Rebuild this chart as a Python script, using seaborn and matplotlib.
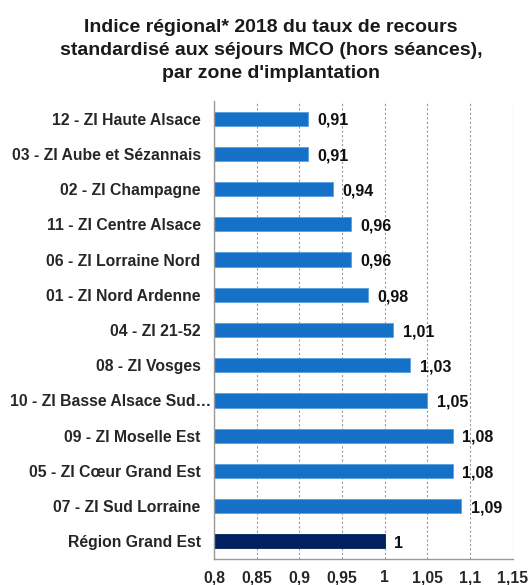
import matplotlib
matplotlib.use("Agg")
import matplotlib.pyplot as plt
import matplotlib.transforms as mtransforms
import seaborn as sns
import pandas as pd
import numpy as np
from matplotlib.ticker import FixedLocator

categories = [
    "12 - ZI Haute Alsace",
    "03 - ZI Aube et Sézannais",
    "02 - ZI Champagne",
    "11 - ZI Centre Alsace",
    "06 - ZI Lorraine Nord",
    "01 - ZI Nord Ardenne",
    "04 - ZI 21-52",
    "08 - ZI Vosges",
    "10 - ZI Basse Alsace Sud…",
    "09 - ZI Moselle Est",
    "05 - ZI Cœur Grand Est",
    "07 - ZI Sud Lorraine",
    "Région Grand Est",
]
values = [0.91, 0.91, 0.94, 0.96, 0.96, 0.98, 1.01, 1.03, 1.05, 1.08, 1.08, 1.09, 1.00]
value_labels = ["0,91", "0,91", "0,94", "0,96", "0,96", "0,98", "1,01", "1,03", "1,05", "1,08", "1,08", "1,09", "1"]
x_ticks = [0.8, 0.85, 0.9, 0.95, 1.0, 1.05, 1.1, 1.15]
x_tick_labels = ["0,8", "0,85", "0,9", "0,95", "1", "1,05", "1,1", "1,15"]
title_lines = ["Indice régional* 2018 du taux de recours",
               "standardisé aux séjours MCO (hors séances),",
               "par zone d'implantation"]

sns.set_style("white")
plt.rcParams['font.family'] = ['Liberation Sans', 'DejaVu Sans']

df = pd.DataFrame({"cat": categories, "val": values})
colors = ["#1570C8"] * (len(categories) - 1) + ["#00205F"]

fig = plt.figure(figsize=(5.29, 5.85), dpi=100)
ax = fig.add_axes([0.4045, 0.0444, 0.5647, 0.783])

sns.barplot(data=df, y="cat", x="val", hue="cat", palette=colors, legend=False,
            orient="h", width=0.4, ax=ax, saturation=1,
            edgecolor="#5AA0E0", linewidth=0.6)
for i, p in enumerate(ax.patches):
    if i == len(categories) - 1:
        p.set_edgecolor("#00205F")

ax.set_xlim(0.8, 1.15)
ax.set_ylim(len(categories) - 0.5, -0.5)
ax.set_xlabel("")
ax.set_ylabel("")

ax.xaxis.set_major_locator(FixedLocator(x_ticks))
ax.set_xticklabels(x_tick_labels, fontsize=11.3, fontweight="bold")
ax.set_yticks(range(len(categories)))
ax.set_yticklabels(categories, fontsize=11.3, fontweight="bold")
ax.tick_params(axis="y", length=0, pad=9.6)
ax.set_yticks(np.arange(len(categories) + 1) - 0.5, minor=True)
ax.tick_params(axis="y", which="minor", length=4, color="#999999", direction="out")
ax.tick_params(axis="x", length=5, color="#999999", direction="out", pad=3)

# the truncated label sits closer to the axis
for lab in ax.get_yticklabels():
    if lab.get_text().startswith("10 -"):
        lab.set_transform(lab.get_transform() + mtransforms.ScaledTranslation(11 / 100, 0, fig.dpi_scale_trans))

for s in ["top", "right"]:
    ax.spines[s].set_visible(False)
for s in ["left", "bottom"]:
    ax.spines[s].set_color("#999999")
    ax.spines[s].set_linewidth(1.0)

ax.grid(axis="x", color="#999999", linestyle=(0, (2, 2)), linewidth=0.8)
ax.set_axisbelow(True)

for i, (v, lab) in enumerate(zip(values, value_labels)):
    ax.text(v + 0.011, i + 0.05, lab, va="center", ha="left", fontsize=11.5, fontweight="bold", color="#111111")

for line, yb in zip(title_lines, [31.7, 55.0, 78.3]):
    fig.text(0.512, 1 - yb / 585, line, ha="center", va="baseline",
             fontsize=14, fontweight="bold", color="#1a1a1a")

fig.savefig("out.png", dpi=100)
